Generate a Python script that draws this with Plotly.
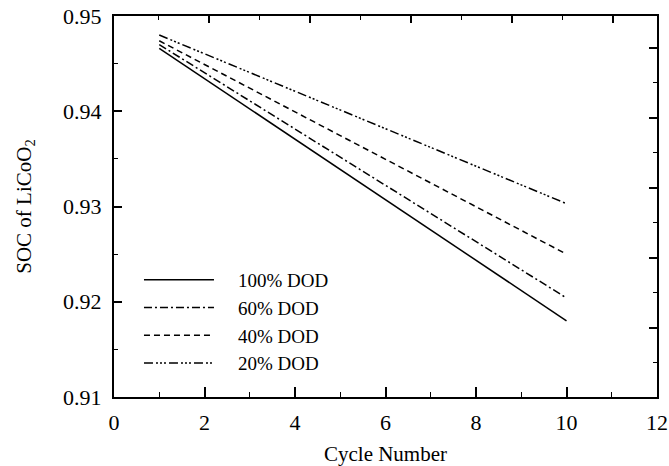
import plotly.graph_objects as go

# Data (cycle number vs SOC of LiCoO2)
cycles = [1, 10]
soc_100 = [0.9466, 0.9180]
soc_60 = [0.9470, 0.9204]
soc_40 = [0.9474, 0.9250]
soc_20 = [0.9480, 0.9303]
series_names = ["100% DOD", "60% DOD", "40% DOD", "20% DOD"]

FONT = "Liberation Serif, Times New Roman, serif"
pad = "\u00a0" * 4

fig = go.Figure()
styles = [
    ("solid", soc_100),
    ("8px,3px,2px,3px", soc_60),
    ("6px,4px", soc_40),
    ("9px,3px,2px,2px,2px,2px,2px,3px", soc_20),
]
for name, (dash, ys) in zip(series_names, styles):
    fig.add_trace(go.Scatter(
        x=cycles, y=ys, mode="lines", name=pad + name,
        line=dict(color="black", width=1.5, dash=dash),
    ))

# empty trace to activate the secondary (top/right) frame axes
fig.add_trace(go.Scatter(x=[], y=[], xaxis="x2", yaxis="y2", showlegend=False))

fig.update_layout(
    width=669, height=466,
    margin=dict(l=114, r=12, t=16, b=69, autoexpand=False),
    paper_bgcolor="white", plot_bgcolor="white",
    font=dict(family=FONT, size=22, color="black"),
    showlegend=True,
    legend=dict(
        x=0.046, y=0.357, xanchor="left", yanchor="top",
        bgcolor="rgba(0,0,0,0)", borderwidth=0,
        itemwidth=70, font=dict(family=FONT, size=19),
    ),
    xaxis=dict(
        range=[0, 12], dtick=2, tick0=0, automargin=False,
        showgrid=False, zeroline=False,
        showline=True, linecolor="black", linewidth=2, mirror=True,
        ticks="inside", ticklen=10, tickwidth=1.5, tickcolor="black",
        minor=dict(dtick=1, ticks="inside", ticklen=5, tickwidth=1, tickcolor="black", showgrid=False),
        ticklabelstandoff=5,
        title=dict(text="Cycle Number", standoff=12, font=dict(family=FONT, size=21)),
    ),
    yaxis=dict(
        range=[0.91, 0.95], dtick=0.01, tick0=0.91, tickformat=".2f", automargin=False,
        showgrid=False, zeroline=False,
        showline=True, linecolor="black", linewidth=2, mirror=True,
        ticks="inside", ticklen=8, tickwidth=1.5, tickcolor="black",
        minor=dict(dtick=0.005, ticks="inside", ticklen=4, tickwidth=1, tickcolor="black", showgrid=False),
        ticklabelstandoff=6,
        title=dict(text="SOC of LiCoO<sub>2</sub>", standoff=26, font=dict(family=FONT, size=21)),
    ),
    xaxis2=dict(
        overlaying="x", side="top", range=[0.057, 5.437], dtick=1, tick0=0, automargin=False,
        showgrid=False, zeroline=False, showline=False, showticklabels=False,
        ticks="inside", ticklen=7, tickwidth=1.5, tickcolor="black",
        minor=dict(dtick=0.5, ticks="inside", ticklen=4, tickwidth=1, tickcolor="black", showgrid=False),
    ),
    yaxis2=dict(
        overlaying="y", side="right", range=[0.014, 5.457], dtick=1, tick0=0, automargin=False,
        showgrid=False, zeroline=False, showline=False, showticklabels=False,
        ticks="inside", ticklen=8, tickwidth=1.5, tickcolor="black",
        minor=dict(dtick=0.5, ticks="inside", ticklen=4, tickwidth=1, tickcolor="black", showgrid=False),
    ),
)

# remove the page's default 8px body margin so the figure fills the window exactly
fig.write_html(
    "out.html",
    config={"displayModeBar": False},
    post_script="document.body.style.margin='0';",
)
